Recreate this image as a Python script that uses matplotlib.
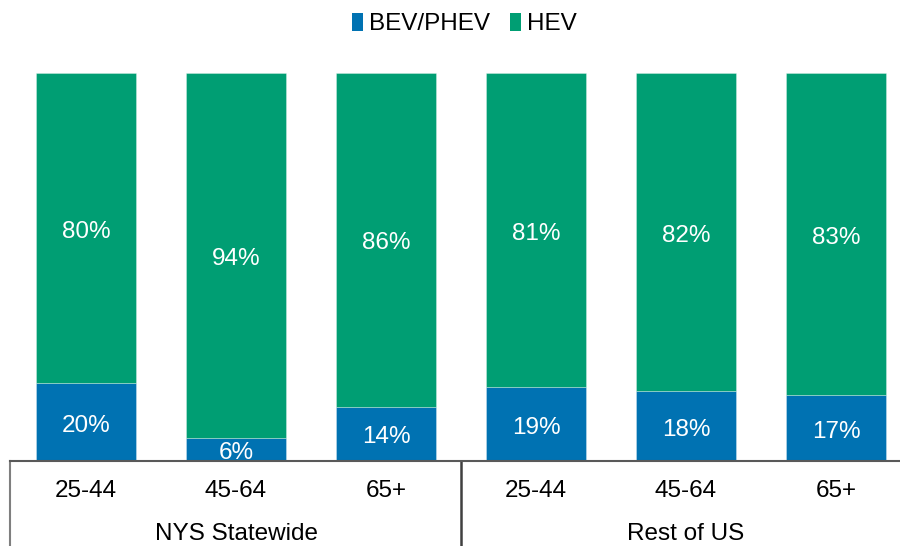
import matplotlib
matplotlib.use("Agg")
import matplotlib.pyplot as plt
from matplotlib.patches import Patch
import matplotlib.transforms as mtransforms

plt.rcParams['font.family'] = ['Liberation Sans', 'DejaVu Sans']

age_groups = ["25-44", "45-64", "65+", "25-44", "45-64", "65+"]
regions = ["NYS Statewide", "Rest of US"]
bev_phev = [20, 6, 14, 19, 18, 17]
hev = [80, 94, 86, 81, 82, 83]
series_names = ["BEV/PHEV", "HEV"]
colors = ["#0072B2", "#009E73"]

fig = plt.figure(figsize=(9, 5.46), dpi=100)
ax = fig.add_axes([10/900, 85/546, 890/900, 388/546])

x = list(range(len(age_groups)))
edge = (1, 1, 1, 0.35)
ax.bar(x, bev_phev, width=0.667, color=colors[0], edgecolor=edge, linewidth=0.6)
ax.bar(x, hev, width=0.667, bottom=bev_phev, color=colors[1], edgecolor=edge, linewidth=0.6)

fs = 17.5
lab_trans = mtransforms.offset_copy(ax.transData, fig=fig, x=0, y=-3.5, units="dots")
for i in x:
    ax.text(i, bev_phev[i] / 2, f"{bev_phev[i]}%", ha="center", va="center",
            color="white", fontsize=fs, transform=lab_trans)
    ax.text(i, bev_phev[i] + hev[i] / 2, f"{hev[i]}%", ha="center", va="center",
            color="white", fontsize=fs, transform=lab_trans)

ax.set_xlim(-0.507, 5.427)
ax.set_ylim(0, 100)
for s in ["top", "right", "left"]:
    ax.spines[s].set_visible(False)
ax.spines["bottom"].set_color("#595959")
ax.spines["bottom"].set_linewidth(1.5)
ax.set_yticks([])
ax.set_xticks(x)
ax.set_xticklabels(age_groups, fontsize=fs)
ax.tick_params(axis="x", length=0, pad=14)

trans = mtransforms.blended_transform_factory(ax.transData, ax.transAxes)
n = len(age_groups) // len(regions)
for g, name in enumerate(regions):
    center = g * n + (n - 1) / 2
    ax.text(center, -73/388, name, transform=trans, ha="center", va="center", fontsize=fs)

lo = -85/388
ax.plot([-0.507, -0.507], [0, lo], transform=trans, color="#7f7f7f", lw=1.5, clip_on=False)
ax.plot([2.5, 2.5], [0, lo], transform=trans, color="#404040", lw=1.8, clip_on=False)

handles = [Patch(facecolor=c, edgecolor="none") for c in colors]
fig.legend(handles, series_names, loc="center", bbox_to_anchor=(0.516, 1 - 24/546),
           ncol=2, frameon=False, fontsize=fs, handlelength=0.45, handleheight=0.75,
           handletextpad=0.25, columnspacing=0.85)

fig.savefig("out.png", dpi=100)
